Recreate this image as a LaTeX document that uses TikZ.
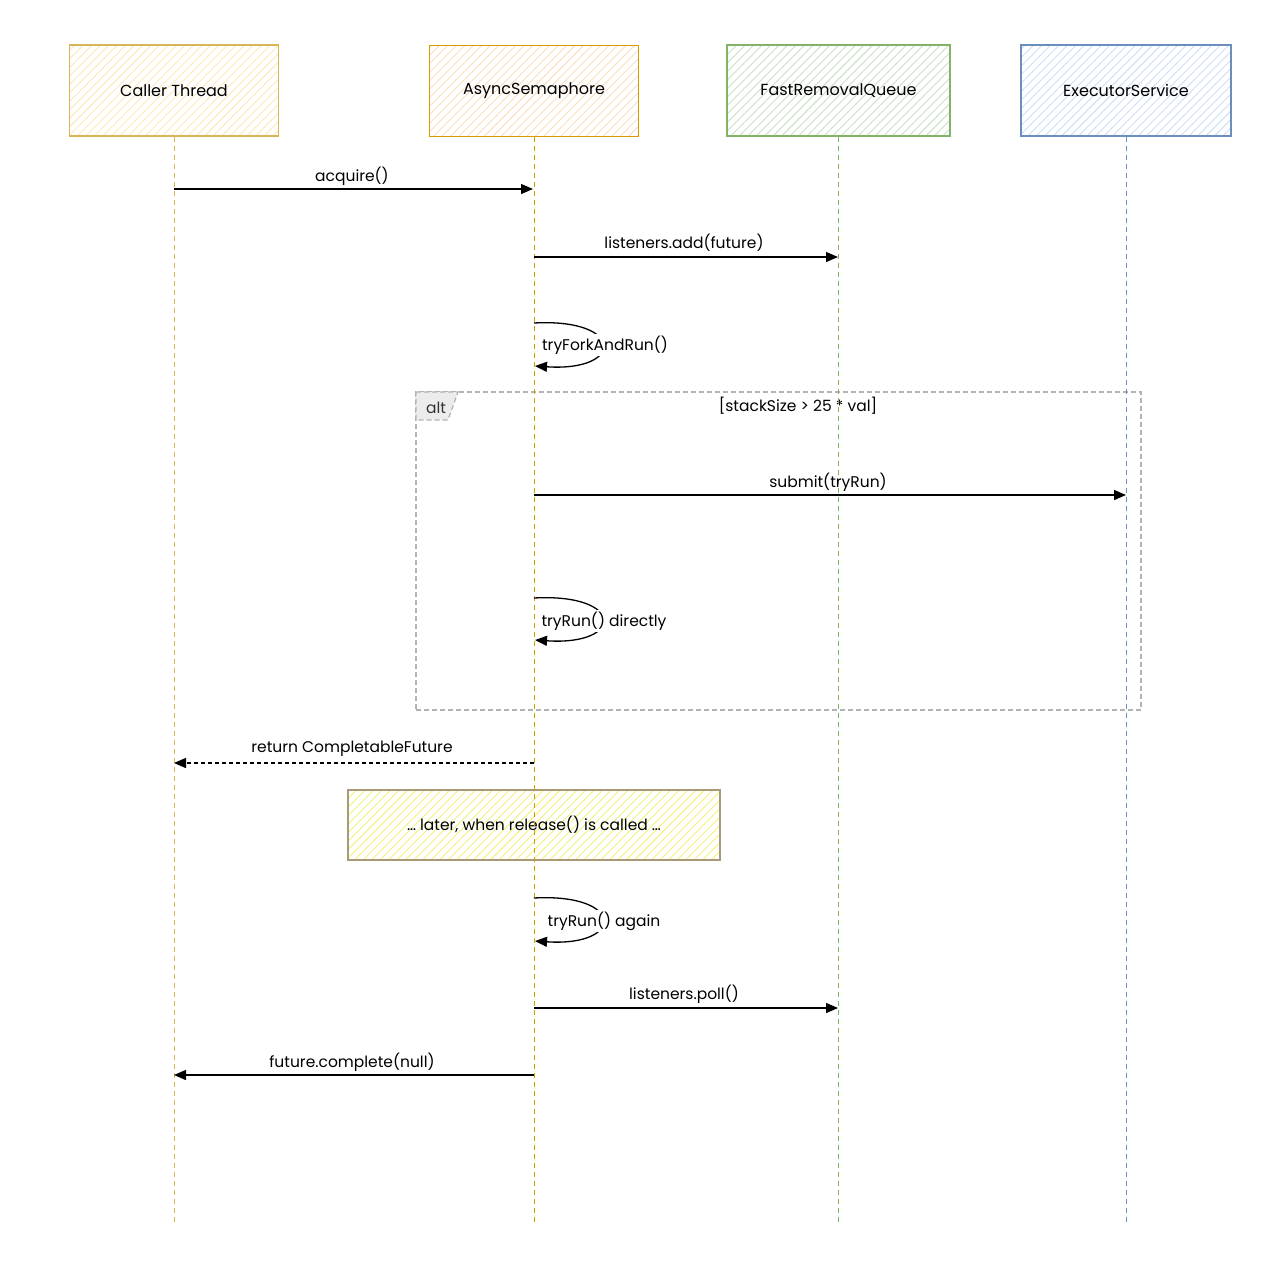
\documentclass[tikz,border=0pt]{standalone}
\usepackage{fontspec}
\setmainfont{Poppins}
\usetikzlibrary{arrows.meta,patterns.meta}
\definecolor{cstroke}{HTML}{D6B656}
\definecolor{chatch}{HTML}{FCE9B8}
\definecolor{astroke}{HTML}{D79B00}
\definecolor{ahatch}{HTML}{FCDDBD}
\definecolor{gstroke}{HTML}{82B366}
\definecolor{ghatch}{HTML}{C9E2C5}
\definecolor{bstroke}{HTML}{6C8EBF}
\definecolor{bhatch}{HTML}{CCDFF8}
\definecolor{nstroke}{HTML}{A89A78}
\definecolor{nhatch}{HTML}{F4F27A}
\definecolor{framegray}{HTML}{B3B3B3}
\tikzset{
  hdr/.style={rectangle, line width=1.4pt, minimum width=209pt, minimum height=91pt,
    font=\fontsize{16}{19}\selectfont, inner sep=0pt},
  life/.style={dashed, dash pattern=on 5pt off 4pt, line width=1pt},
  msg/.style={line width=1.3pt, -{Triangle[length=12pt,width=10pt]}},
  ret/.style={line width=1.3pt, dash pattern=on 4pt off 3pt, -{Triangle[length=12pt,width=10pt]}},
  lbl/.style={font=\fontsize{15.5}{18}\selectfont, inner sep=1pt},
  hatchfill/.style={pattern={Lines[angle=45,distance=6pt,line width=0.9pt]}, pattern color=#1}
}
\begin{document}
\begin{tikzpicture}[x=1pt,y=-1pt]
\useasboundingbox[fill=white] (0,0) rectangle (1276,1274);

% note box (drawn before lifelines)
\node[rectangle, draw=nstroke, line width=1.3pt, hatchfill=nhatch, minimum width=372pt, minimum height=70pt, font=\fontsize{15.5}{18}\selectfont] (note) at (534,825) {… later, when release() is called …};

% alt frame
\node[rectangle, draw=framegray, dashed, dash pattern=on 5pt off 3pt, line width=1.2pt, minimum width=725pt, minimum height=318pt] (alt) at (778.5,551) {};
\draw[draw=framegray, dashed, dash pattern=on 5pt off 3pt, line width=1.2pt, fill=gray!15] (416,392) -- (458,392) -- (448,420) -- (416,420) -- cycle;
\node[lbl, text=black!80] (altlbl) at (436,408) {alt};
\node[lbl] (cond) at (798,406) {[stackSize > 25 * val]};

% headers
\node[hdr, draw=cstroke, hatchfill=chatch] (ct) at (174,90.5) {Caller Thread};
\node[hdr, draw=astroke, hatchfill=ahatch] (as) at (534,91) {AsyncSemaphore};
\node[hdr, draw=gstroke, hatchfill=ghatch, minimum width=223pt] (fq) at (838.5,90.5) {FastRemovalQueue};
\node[hdr, draw=bstroke, hatchfill=bhatch, minimum width=210pt] (es) at (1126,90.5) {ExecutorService};

% lifelines
\coordinate (ctend) at (174,1222);
\coordinate (asend) at (534,1222);
\coordinate (fqend) at (838.5,1222);
\coordinate (esend) at (1126,1222);
\draw[life, cstroke] (ct.south) -- (ctend);
\draw[life, astroke] (as.south) -- (asend);
\draw[life, gstroke] (fq.south) -- (fqend);
\draw[life, bstroke] (es.south) -- (esend);

% message endpoints
\coordinate (m1a) at (174,189);   \coordinate (m1b) at (533,189);
\coordinate (m2a) at (534,257);   \coordinate (m2b) at (838,257);
\coordinate (m3a) at (534,323);   \coordinate (m3b) at (535,366);
\coordinate (m4a) at (534,495);   \coordinate (m4b) at (1126,495);
\coordinate (m5a) at (534,598);   \coordinate (m5b) at (535,640);
\coordinate (m6a) at (534,763);   \coordinate (m6b) at (174,763);
\coordinate (m7a) at (534,898);   \coordinate (m7b) at (535,941);
\coordinate (m8a) at (534,1008);  \coordinate (m8b) at (838,1008);
\coordinate (m9a) at (534,1075);  \coordinate (m9b) at (174,1075);

% messages
\draw[msg] (m1a) -- (m1b);
\node[lbl] (l1) at (352,176) {acquire()};

\draw[msg] (m2a) -- (m2b);
\node[lbl] (l2) at (684,243) {listeners.add(future)};

\draw[msg] (m3a) .. controls (625,318) and (625,372) .. (m3b);
\node[lbl, fill=white, inner sep=2pt] (l3) at (605,345) {tryForkAndRun()};

\draw[msg] (m4a) -- (m4b);
\node[lbl] (l4) at (828,482) {submit(tryRun)};

\draw[msg] (m5a) .. controls (625,593) and (625,646) .. (m5b);
\node[lbl, fill=white, inner sep=2pt] (l5) at (604,621) {tryRun() directly};

\draw[ret] (m6a) -- (m6b);
\node[lbl] (l6) at (352,749) {return CompletableFuture};

\draw[msg] (m7a) .. controls (625,893) and (625,947) .. (m7b);
\node[lbl, fill=white, inner sep=2pt] (l7) at (604,921) {tryRun() again};

\draw[msg] (m8a) -- (m8b);
\node[lbl] (l8) at (684,994) {listeners.poll()};

\draw[msg] (m9a) -- (m9b);
\node[lbl] (l9) at (352,1062) {future.complete(null)};
\end{tikzpicture}
\end{document}
